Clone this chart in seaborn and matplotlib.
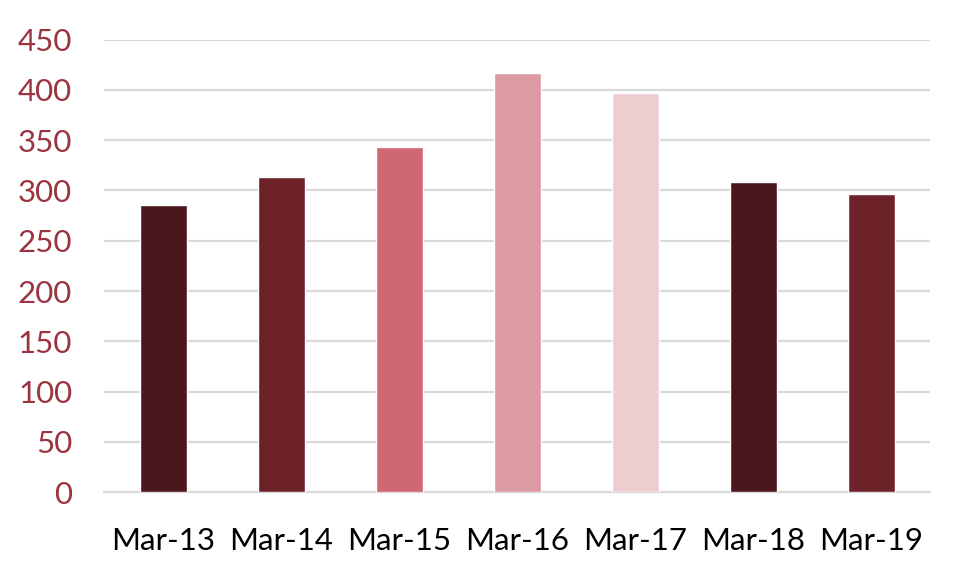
import matplotlib
matplotlib.use("Agg")
import matplotlib.pyplot as plt
import seaborn as sns
import pandas as pd

# data
months = ['Mar-13', 'Mar-14', 'Mar-15', 'Mar-16', 'Mar-17', 'Mar-18', 'Mar-19']
values = [286, 313, 343, 417, 397, 308, 296]
bar_colors = ['#4B171D', '#6D222A', '#CF6873', '#DC9BA2', '#EECDD1', '#4B171D', '#6D222A']
yticks = [0, 50, 100, 150, 200, 250, 300, 350, 400, 450]

sns.set_style('white')
plt.rcParams['font.family'] = ['Lato', 'DejaVu Sans']

df = pd.DataFrame({'month': months, 'value': values})

fig = plt.figure(figsize=(9.64, 5.76), dpi=100)
ax = fig.add_axes([0.108, 0.1453, 0.857, 0.7861])

sns.barplot(data=df, x='month', y='value', hue='month', palette=bar_colors,
            width=0.4, legend=False, saturation=1, ax=ax, zorder=3)

ax.set_ylim(0, 450)
ax.set_xlim(-0.5, len(months) - 0.5)
ax.set_yticks(yticks)
ax.yaxis.grid(True, color='#D9D9D9', linewidth=1.6, zorder=0)
ax.set_axisbelow(True)
for s in ['top', 'right', 'left']:
    ax.spines[s].set_visible(False)
ax.spines['bottom'].set_color('#D9D9D9')
ax.spines['bottom'].set_linewidth(1.6)

ax.tick_params(axis='y', colors='#9B3440', labelsize=22.5, length=0, pad=23)
ax.tick_params(axis='x', colors='black', labelsize=22.5, length=0, pad=25)
for lbl in ax.get_yticklabels():
    lbl.set_color('#9B3440')
ax.set_xlabel('')
ax.set_ylabel('')

fig.savefig('out.png', dpi=100)
